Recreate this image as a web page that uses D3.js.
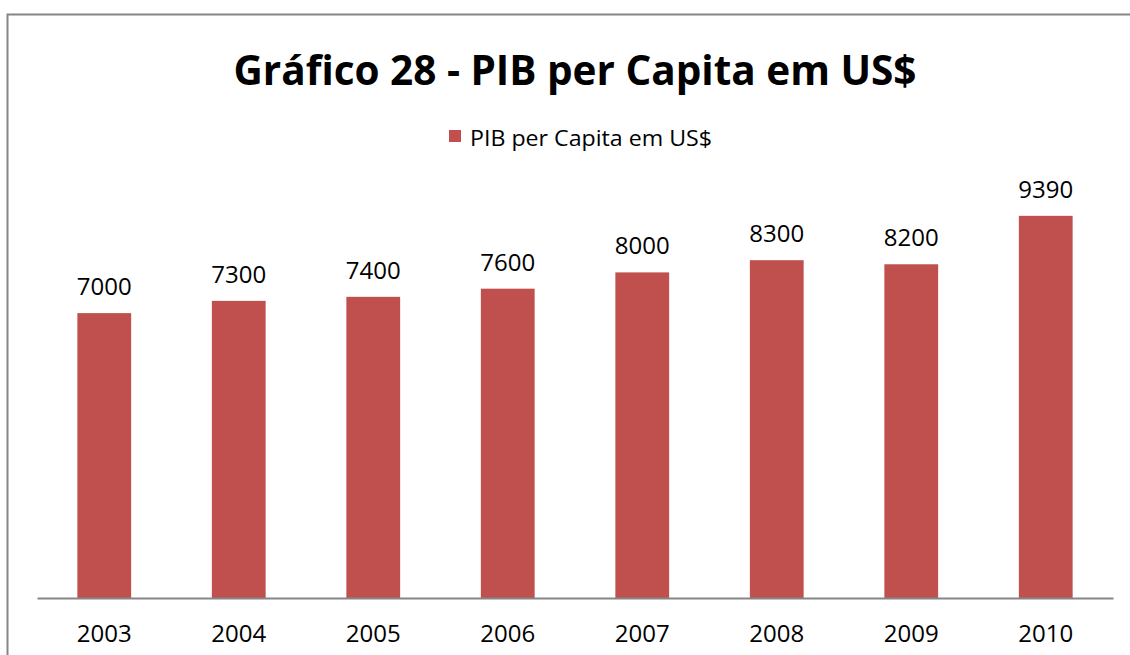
<!DOCTYPE html>
<html><head><meta charset="utf-8">
<script src="https://cdn.jsdelivr.net/npm/d3@7"></script>
<style>body{margin:0;background:#fff}svg{display:block}</style>
</head><body>
<script>
const categories = ["2003","2004","2005","2006","2007","2008","2009","2010"];
const values = [7000,7300,7400,7600,8000,8300,8200,9390];
const seriesName = "PIB per Capita em US$";
const titleText = "Gráfico 28 - PIB per Capita em US$";

const W = 1130, H = 655;
const svg = d3.select("body").append("svg").attr("width", W).attr("height", H);
const font = "'Open Sans', 'Noto Sans', sans-serif";

// chart border
svg.append("rect").attr("x", 7.5).attr("y", 14.5).attr("width", 1140).attr("height", 660)
  .attr("fill", "none").attr("stroke", "#868686").attr("stroke-width", 2);

const x = d3.scaleBand().domain(categories).range([37, 1113]).paddingInner(0.6).paddingOuter(0.3);
const y = d3.scaleLinear().domain([0, 10000]).range([598, 191]);

svg.append("text").attr("x", 575).attr("y", 85).attr("text-anchor", "middle")
  .attr("font-family", font).attr("font-weight", "bold").attr("font-size", 40.5)
  .attr("textLength", 683).attr("lengthAdjust", "spacingAndGlyphs").text(titleText);

// legend
svg.append("rect").attr("x", 449).attr("y", 130).attr("width", 12).attr("height", 12).attr("fill", "#C0504D");
svg.append("text").attr("x", 470).attr("y", 146).attr("font-family", font).attr("font-size", 21)
  .attr("textLength", 242).attr("lengthAdjust", "spacingAndGlyphs")
  .attr("fill", "#000").text(seriesName);

svg.selectAll("rect.bar").data(values).enter().append("rect").attr("class", "bar")
  .attr("x", (d, i) => x(categories[i])).attr("width", x.bandwidth())
  .attr("y", d => y(d)).attr("height", d => y(0) - y(d)).attr("fill", "#C0504D");

svg.selectAll("text.lbl").data(values).enter().append("text").attr("class", "lbl")
  .attr("x", (d, i) => x(categories[i]) + x.bandwidth() / 2).attr("y", d => y(d) - 18)
  .attr("text-anchor", "middle").attr("font-family", font).attr("font-size", 24).text(d => d);

const ax = svg.append("g").attr("transform", "translate(0,598)")
  .call(d3.axisBottom(x).tickSize(0).tickPadding(27));
ax.select(".domain").attr("stroke", "#868686").attr("stroke-width", 2);
ax.selectAll("text").attr("font-family", font).attr("font-size", 24).attr("fill", "#000");
</script>
</body></html>
